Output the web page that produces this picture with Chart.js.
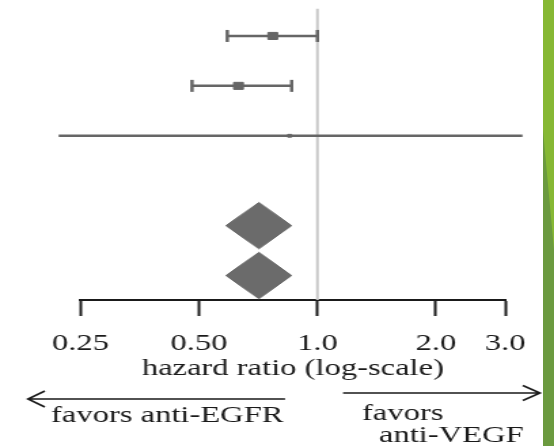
<!DOCTYPE html>
<html>
<head>
<meta charset="utf-8">
<script src="https://cdn.jsdelivr.net/npm/chart.js@4.4.1/dist/chart.umd.min.js"></script>
<style>
  html, body { margin: 0; padding: 0; background: #fff; }
  #wrap { position: relative; width: 554px; height: 446px; overflow: hidden; background: #fff; }
  /* the plot is laid out narrower and stretched sideways */
  #plot { position: absolute; left: 0; top: 0; width: 408px; height: 446px; transform: scaleX(1.358); transform-origin: 0 0; }
  #stripe { position: absolute; left: 543px; top: 0; width: 11px; height: 446px; background: #6b9a3f; }
  #stripe::before { content: ''; position: absolute; left: 0; top: 0; right: 0; bottom: 0; background: #86b834; clip-path: polygon(0 0, 100% 0, 100% 250px, 0 130px); }
</style>
</head>
<body>
<div id="wrap">
  <div id="plot"><canvas id="forest"></canvas></div>
  <div id="stripe"></div>
</div>
<script>
// individual trials: hazard ratio with 95% CI
const studies = ['Trial 1', 'Trial 2', 'Trial 3'];
const studyHR = [0.77, 0.63, 0.85];
const studyLow = [0.59, 0.48, 0.22];
const studyHigh = [1.0, 0.86, 3.32];
const studyWeight = [5, 5, 2];

// pooled estimates (diamonds)
const pooled = ['Fixed effect', 'Random effects'];
const pooledHR = [0.71, 0.71];
const pooledLow = [0.585, 0.585];
const pooledHigh = [0.86, 0.86];

// row of each line, top to bottom
const rowIndex = [0, 1, 2, 3.8, 4.8];

const tickValues = [0.25, 0.5, 1, 2, 3];
const tickLabels = ['0.25', '0.50', '1.0', '2.0', '3.0'];

const axisTitle = 'hazard ratio (log-scale)';
const favorsLeft = 'favors anti-EGFR';
const favorsRight = ['favors', 'anti-VEGF'];

const yMin = -0.55;
const yMax = 5.29;
const diamondHalf = 0.465;
const grey = '#666666';
const ink = '#1a1a1a';
const serif = '"Liberation Serif", "Times New Roman", serif';
const textSize = 24;

const datasets = [];

studies.forEach((name, i) => {
  const y = rowIndex[i];
  datasets.push({
    label: name + ' CI',
    data: [{ x: studyLow[i], y: y }, { x: studyHigh[i], y: y }],
    showLine: true,
    borderColor: grey,
    borderWidth: 2.5,
    pointStyle: 'line',
    pointRotation: 90,
    pointRadius: 6,
    pointBorderWidth: 2.5,
    pointBorderColor: grey,
    clip: false,
    order: 2
  });
  datasets.push({
    label: name,
    data: [{ x: studyHR[i], y: y }],
    pointStyle: 'rect',
    pointRadius: studyWeight[i],
    pointBackgroundColor: grey,
    pointBorderColor: grey,
    pointBorderWidth: 1,
    clip: false,
    order: 1
  });
});

pooled.forEach((name, j) => {
  const y = rowIndex[studies.length + j];
  datasets.push({
    label: name,
    data: [
      { x: pooledLow[j], y: y },
      { x: pooledHR[j], y: y - diamondHalf },
      { x: pooledHigh[j], y: y },
      { x: pooledHR[j], y: y + diamondHalf },
      { x: pooledLow[j], y: y }
    ],
    showLine: true,
    fill: 'shape',
    backgroundColor: '#6b6b6b',
    borderColor: '#6b6b6b',
    borderWidth: 1,
    pointRadius: 0,
    order: 1
  });
});

// line of no effect
datasets.push({
  label: 'HR = 1',
  data: [{ x: 1, y: yMin }, { x: 1, y: yMax }],
  showLine: true,
  borderColor: '#c9c9c9',
  borderWidth: 2,
  pointRadius: 0,
  order: 5
});

// arrows and "favors" captions under the axis
const favorsPlugin = {
  id: 'favors',
  afterDraw(chart) {
    const ctx = chart.ctx;
    ctx.save();
    ctx.strokeStyle = ink;
    ctx.fillStyle = ink;
    ctx.lineWidth = 1.6;

    ctx.beginPath();
    ctx.moveTo(209.9, 399);
    ctx.lineTo(20.6, 399);
    ctx.moveTo(33, 391);
    ctx.lineTo(20.6, 399);
    ctx.lineTo(33, 407);
    ctx.stroke();

    ctx.beginPath();
    ctx.moveTo(252.6, 393);
    ctx.lineTo(397.6, 393);
    ctx.moveTo(385, 385.5);
    ctx.lineTo(397.6, 393);
    ctx.lineTo(385, 400.5);
    ctx.stroke();

    ctx.font = textSize + 'px ' + serif;
    ctx.textBaseline = 'alphabetic';
    ctx.textAlign = 'left';
    ctx.fillText(favorsLeft, 37.5, 422);
    ctx.fillText(favorsRight[0], 266.5, 420);
    ctx.fillText(favorsRight[1], 279, 442);
    ctx.restore();
  }
};

new Chart(document.getElementById('forest'), {
  type: 'scatter',
  data: { datasets: datasets },
  options: {
    responsive: true,
    maintainAspectRatio: false,
    animation: false,
    events: [],
    layout: { padding: { top: 6, left: 59.3, right: 36, bottom: 0 } },
    plugins: {
      legend: { display: false },
      tooltip: { enabled: false }
    },
    scales: {
      x: {
        type: 'logarithmic',
        min: 0.25,
        max: 3,
        afterBuildTicks: scale => {
          scale.ticks = tickValues.map(v => ({ value: v }));
        },
        afterFit: scale => {
          scale.height = 146;
        },
        ticks: {
          autoSkip: false,
          maxRotation: 0,
          minRotation: 0,
          padding: 13,
          color: ink,
          font: { family: serif, size: textSize },
          callback: (value, index) => tickLabels[index]
        },
        grid: {
          display: true,
          drawOnChartArea: false,
          drawTicks: true,
          tickLength: 16,
          tickWidth: 2,
          tickColor: ink,
          color: ink
        },
        border: { display: true, color: ink, width: 2 },
        title: {
          display: true,
          text: axisTitle,
          color: ink,
          font: { family: serif, size: textSize },
          padding: { top: 0, bottom: 63 }
        }
      },
      y: {
        type: 'linear',
        min: yMin,
        max: yMax,
        reverse: true,
        display: false
      }
    }
  },
  plugins: [favorsPlugin]
});
</script>
</body>
</html>
